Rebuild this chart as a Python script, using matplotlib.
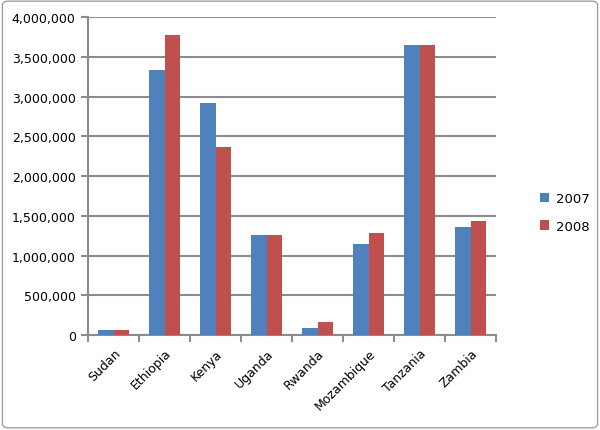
import numpy as np
import matplotlib.pyplot as plt
from matplotlib.patches import FancyBboxPatch
from matplotlib.ticker import FuncFormatter, FixedLocator

countries = ['Sudan', 'Ethiopia', 'Kenya', 'Uganda', 'Rwanda', 'Mozambique', 'Tanzania', 'Zambia']
values_2007 = [63000, 3333000, 2920000, 1262000, 90000, 1145000, 3650000, 1360000]
values_2008 = [63000, 3775000, 2365000, 1262000, 165000, 1280000, 3650000, 1435000]

blue = '#4F81BD'
red = '#C0504D'
grid_col = '#8C8C8C'

fig = plt.figure(figsize=(6.0, 4.31), dpi=100)
# outer border like the Excel chart area
fig.patches.append(FancyBboxPatch((0.004, 0.005), 0.992, 0.99, boxstyle='round,pad=0,rounding_size=0.01',
                                  transform=fig.transFigure, fill=False, edgecolor='#A0A0A0', linewidth=1.0))

ax = fig.add_axes([0.147, 0.220, 0.680, 0.738])
x = np.arange(len(countries))
w = 0.3
ax.bar(x - w / 2, values_2007, w, color=blue, label='2007', zorder=3)
ax.bar(x + w / 2, values_2008, w, color=red, label='2008', zorder=3)

ax.set_xlim(-0.5, len(countries) - 0.5)
ax.set_ylim(0, 4000000)
ax.set_yticks(np.arange(0, 4000001, 500000))
ax.yaxis.set_major_formatter(FuncFormatter(lambda v, p: f'{int(v):,}'))
ax.yaxis.grid(True, color=grid_col, linewidth=1.5, zorder=0)

ax.set_xticks(x)
ax.set_xticklabels(countries, rotation=45, ha='right', rotation_mode='anchor')
ax.tick_params(axis='x', length=0, pad=8, labelsize=9)
ax.xaxis.set_minor_locator(FixedLocator(np.arange(-0.5, len(countries), 1)))
ax.tick_params(axis='x', which='minor', length=5, width=1.5, color=grid_col)
ax.tick_params(axis='y', length=5, width=1.5, color=grid_col, labelsize=9, pad=4)

for s in ['top', 'right']:
    ax.spines[s].set_visible(False)
for s in ['left', 'bottom']:
    ax.spines[s].set_color(grid_col)
    ax.spines[s].set_linewidth(1.5)

fig.legend(loc='center left', bbox_to_anchor=(0.88, 0.505), frameon=False, fontsize=9.5,
           handlelength=0.7, handleheight=0.7, handletextpad=0.5, labelspacing=1.1)

fig.savefig('out.png', dpi=100)
